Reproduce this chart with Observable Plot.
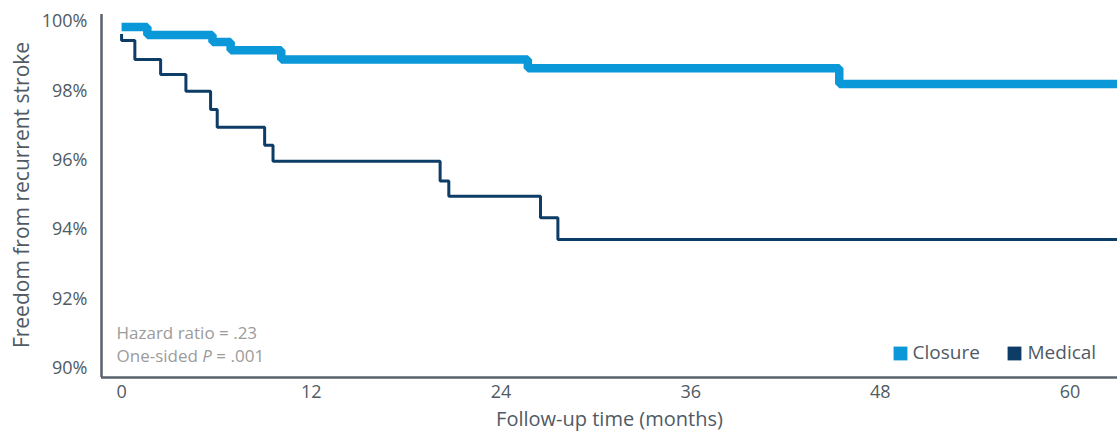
<!DOCTYPE html>
<html>
<head>
<meta charset="utf-8">
<script src="https://cdn.jsdelivr.net/npm/d3@7"></script>
<script src="https://cdn.jsdelivr.net/npm/@observablehq/plot@0.6"></script>
<style>
  html, body { margin: 0; padding: 0; background: #fff; }
  #chart svg { display: block; }
</style>
</head>
<body>
<div id="chart"></div>
<script>
// ---- data ----
const closureMonths = [0, 1.63, 5.75, 6.9, 10.1, 25.7, 45.4, 63];
const closureValues = [99.84, 99.61, 99.41, 99.17, 98.90, 98.65, 98.20, 98.20];
const medicalMonths = [0, 0, 0.84, 2.47, 4.07, 5.63, 6.05, 9.05, 9.58, 20.15, 20.7, 26.5, 27.6, 63];
const medicalValues = [99.64, 99.45, 98.90, 98.47, 97.99, 97.46, 96.95, 96.43, 95.97, 95.40, 94.96, 94.34, 93.72, 93.72];
const xTicks = [0, 12, 24, 36, 48, 60];
const yTicks = [90, 92, 94, 96, 98, 100];
const xDomain = [-1.27, 63];
const yDomain = [89.74, 100.2];
const seriesNames = ["Closure", "Medical"];
const seriesColors = ["#0a98d8", "#0d3d66"];
const annotationLines = ["Hazard ratio = .23", "One-sided P = .001"];

const closure = closureMonths.map((m, i) => ({month: m, value: closureValues[i]}));
const medical = medicalMonths.map((m, i) => ({month: m, value: medicalValues[i]}));

const font = "'Open Sans', 'DejaVu Sans', sans-serif";
const textColor = "#4f5a64";
const axisColor = "#59626b";

const chart = Plot.plot({
  width: 1117,
  height: 432,
  marginLeft: 101,
  marginRight: 0,
  marginTop: 14,
  marginBottom: 55,
  style: {fontFamily: font, fontSize: "17px", color: textColor, background: "#fff", overflow: "visible"},
  x: {domain: xDomain},
  y: {domain: yDomain},
  marks: [
    Plot.axisX({ticks: xTicks, tickSize: 0, tickPadding: 8, label: null, fontSize: 18, fill: textColor}),
    Plot.axisY({ticks: yTicks, tickSize: 0, tickPadding: 14, label: null, tickFormat: d => d + "%", fontSize: 18, fill: textColor}),
    Plot.line(closure, {x: "month", y: "value", curve: "step-after", stroke: seriesColors[0], strokeWidth: 8.5, strokeLinejoin: "miter", strokeLinecap: "butt"}),
    Plot.line(medical, {x: "month", y: "value", curve: "step-after", stroke: seriesColors[1], strokeWidth: 3, strokeLinejoin: "miter", strokeLinecap: "butt"}),
    Plot.ruleX([xDomain[0]], {stroke: axisColor, strokeWidth: 2.5}),
    Plot.ruleY([yDomain[0]], {stroke: axisColor, strokeWidth: 2.5}),
    Plot.text(["Follow-up time (months)"], {frameAnchor: "bottom", dy: 42, lineAnchor: "middle", fontSize: 20, fill: textColor}),
    Plot.text(["Freedom from recurrent stroke"], {frameAnchor: "left", dx: -79, dy: -1, rotate: -90, textAnchor: "middle", lineAnchor: "middle", fontSize: 21, fill: textColor}),
    Plot.text([annotationLines[0]], {frameAnchor: "bottom-left", dx: 15, dy: -44, textAnchor: "start", lineAnchor: "middle", fontSize: 17, fill: "#9b9b9b"}),
    Plot.text([annotationLines[1]], {frameAnchor: "bottom-left", dx: 15, dy: -21, textAnchor: "start", lineAnchor: "middle", fontSize: 17, fill: "#9b9b9b"}),
    Plot.dot([seriesNames[0]], {frameAnchor: "bottom-right", dx: -217, dy: -24, symbol: "square", r: 7.8, fill: seriesColors[0], stroke: null}),
    Plot.text([seriesNames[0]], {frameAnchor: "bottom-right", dx: -205, dy: -25, textAnchor: "start", lineAnchor: "middle", fontSize: 19, fill: textColor}),
    Plot.dot([seriesNames[1]], {frameAnchor: "bottom-right", dx: -103, dy: -24, symbol: "square", r: 7.8, fill: seriesColors[1], stroke: null}),
    Plot.text([seriesNames[1]], {frameAnchor: "bottom-right", dx: -90, dy: -25, textAnchor: "start", lineAnchor: "middle", fontSize: 19, fill: textColor})
  ]
});

// italicize the P in the annotation
d3.select(chart).selectAll("text").each(function() {
  const t = d3.select(this);
  if (t.text() === annotationLines[1]) {
    const parts = annotationLines[1].split("P");
    t.text(null);
    t.append("tspan").text(parts[0]);
    t.append("tspan").attr("font-style", "italic").text("P");
    t.append("tspan").text(parts[1]);
  }
});

document.getElementById("chart").appendChild(chart);
</script>
</body>
</html>
